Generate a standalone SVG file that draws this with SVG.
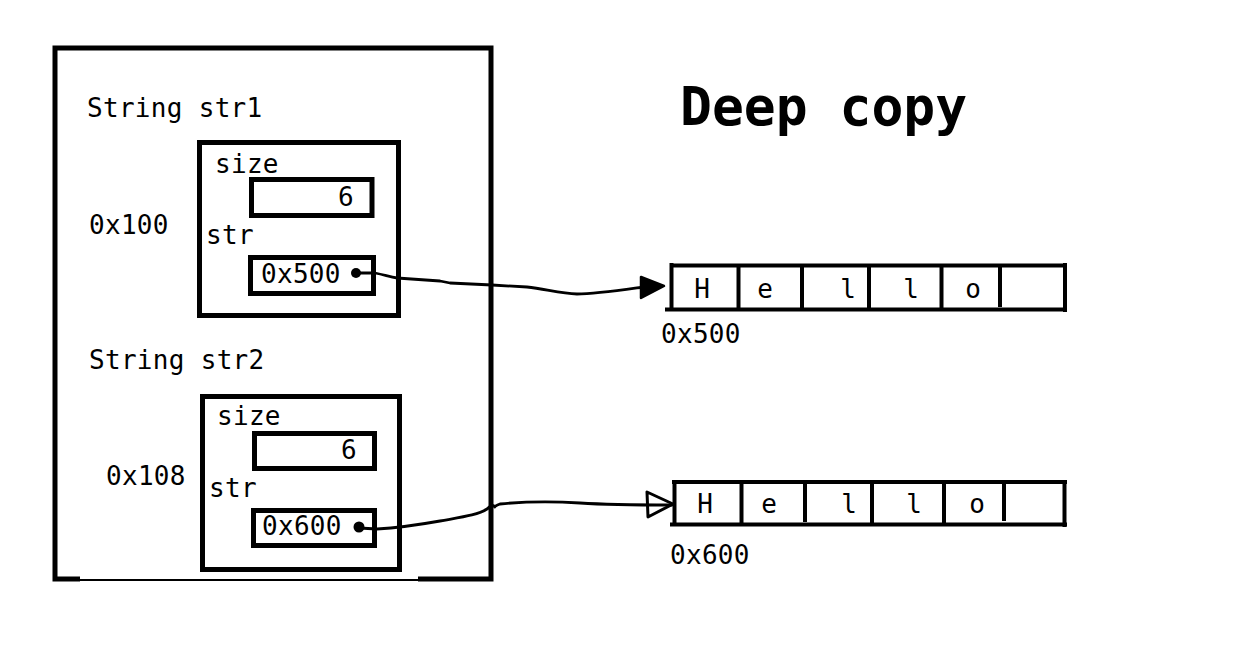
<svg xmlns="http://www.w3.org/2000/svg" width="1242" height="668" viewBox="0 0 1242 668">
<style>
.t{font-family:"DejaVu Sans Mono","Liberation Mono",monospace;font-size:26px;fill:#000;letter-spacing:0.3px}
.c{text-anchor:middle;letter-spacing:0}
.b{fill:none;stroke:#000;stroke-width:5}
.d{stroke:#000;stroke-width:4}
.w{fill:none;stroke:#000;stroke-width:2.8;stroke-linecap:round;stroke-linejoin:round}
.title{font-family:"DejaVu Sans Mono","Liberation Mono",monospace;font-size:53px;font-weight:bold;fill:#000}
</style>
<rect width="1242" height="668" fill="#fff"/>
<g id="title"><text class="title" x="680" y="125">Deep copy</text></g>
<g id="stack">
<path d="M80,579 L55,579 L55,48 L491,48 L491,579 L418,579" class="b" stroke-width="4.5"/>
<line x1="80" y1="580" x2="418" y2="580" stroke="#000" stroke-width="2"/>
</g>
<g id="str1">
<text class="t" x="87" y="117">String str1</text>
<text class="t" x="89" y="234">0x100</text>
<rect class="b" x="199.5" y="142.5" width="199" height="173"/>
<text class="t" x="215" y="173">size</text>
<rect class="b" x="251.5" y="179.5" width="120.5" height="36" stroke-width="4.5"/>
<text class="t" x="338" y="206">6</text>
<text class="t" x="206" y="244">str</text>
<rect class="b" x="250.5" y="257.5" width="123" height="36" stroke-width="4.5"/>
<text class="t" x="261" y="283">0x500</text>
<circle cx="356" cy="273" r="5"/>
</g>
<g id="str2">
<text class="t" x="89" y="369">String str2</text>
<text class="t" x="106" y="485">0x108</text>
<rect class="b" x="202.5" y="396.5" width="197" height="173"/>
<text class="t" x="217" y="425">size</text>
<rect class="b" x="254.5" y="433.5" width="120" height="35" stroke-width="4.5"/>
<text class="t" x="341" y="459">6</text>
<text class="t" x="209" y="497">str</text>
<rect class="b" x="253.5" y="510.5" width="121" height="35" stroke-width="4.5"/>
<text class="t" x="262" y="535">0x600</text>
<circle cx="359" cy="527" r="5.5"/>
</g>
<g id="heap1">
<line x1="670" y1="265.5" x2="1067" y2="265.5" class="d" stroke-width="5"/>
<line x1="665" y1="309.5" x2="1067" y2="309.5" class="d" stroke-width="5"/>
<line x1="671.5" y1="263" x2="671.5" y2="309" class="d" stroke-width="5"/>
<line x1="1065" y1="263" x2="1065" y2="312" class="d" stroke-width="5"/>
<line x1="738.5" y1="265" x2="738.5" y2="309" class="d"/>
<line x1="802" y1="265" x2="802" y2="309" class="d"/>
<line x1="869" y1="265" x2="869" y2="309" class="d"/>
<line x1="941.5" y1="265" x2="941.5" y2="309" class="d"/>
<line x1="1000" y1="265" x2="1000" y2="307" class="d"/>
<text class="t c" x="702" y="298">H</text>
<text class="t c" x="765" y="298">e</text>
<text class="t c" x="848" y="298">l</text>
<text class="t c" x="911" y="298">l</text>
<text class="t c" x="973" y="298">o</text>
<text class="t" x="661" y="343">0x500</text>
</g>
<g id="heap2">
<line x1="672" y1="482" x2="1067" y2="482" class="d" stroke-width="5"/>
<line x1="670" y1="524.5" x2="1067" y2="524.5" class="d" stroke-width="5"/>
<line x1="674.5" y1="480" x2="674.5" y2="524" class="d" stroke-width="5"/>
<line x1="1064.5" y1="480" x2="1064.5" y2="527" class="d" stroke-width="5"/>
<line x1="741.5" y1="482" x2="741.5" y2="524" class="d"/>
<line x1="805" y1="482" x2="805" y2="522" class="d"/>
<line x1="872" y1="482" x2="872" y2="524" class="d"/>
<line x1="944" y1="482" x2="944" y2="524" class="d"/>
<line x1="1004" y1="482" x2="1004" y2="521" class="d"/>
<text class="t c" x="705" y="513">H</text>
<text class="t c" x="769" y="513">e</text>
<text class="t c" x="849" y="513">l</text>
<text class="t c" x="914" y="513">l</text>
<text class="t c" x="977" y="513">o</text>
<text class="t" x="670" y="564">0x600</text>
</g>
<g id="connectors">
<path class="w" d="M356,273 L375,273 C385,275 390,277 397,278 L440,281 L450,283 L492,285 L527,287 C545,289 560,293 577,294 C595,294 615,291 644,287"/>
<polygon points="641,277 641,298 664,286" fill="#000" stroke="#000" stroke-width="2.5" stroke-linejoin="round"/>
<path class="w" d="M359,528 L377,529 C395,528 412,526 440,521 C462,517 478,515 487,509 C490,507 491,504 494,506 C496,508 492,507 500,504 C520,502 550,501 580,503 C610,505 640,505 672,505"/>
<polygon points="647,492 648,517 673,504" fill="none" stroke="#000" stroke-width="3" stroke-linejoin="round"/>
</g>
</svg>
